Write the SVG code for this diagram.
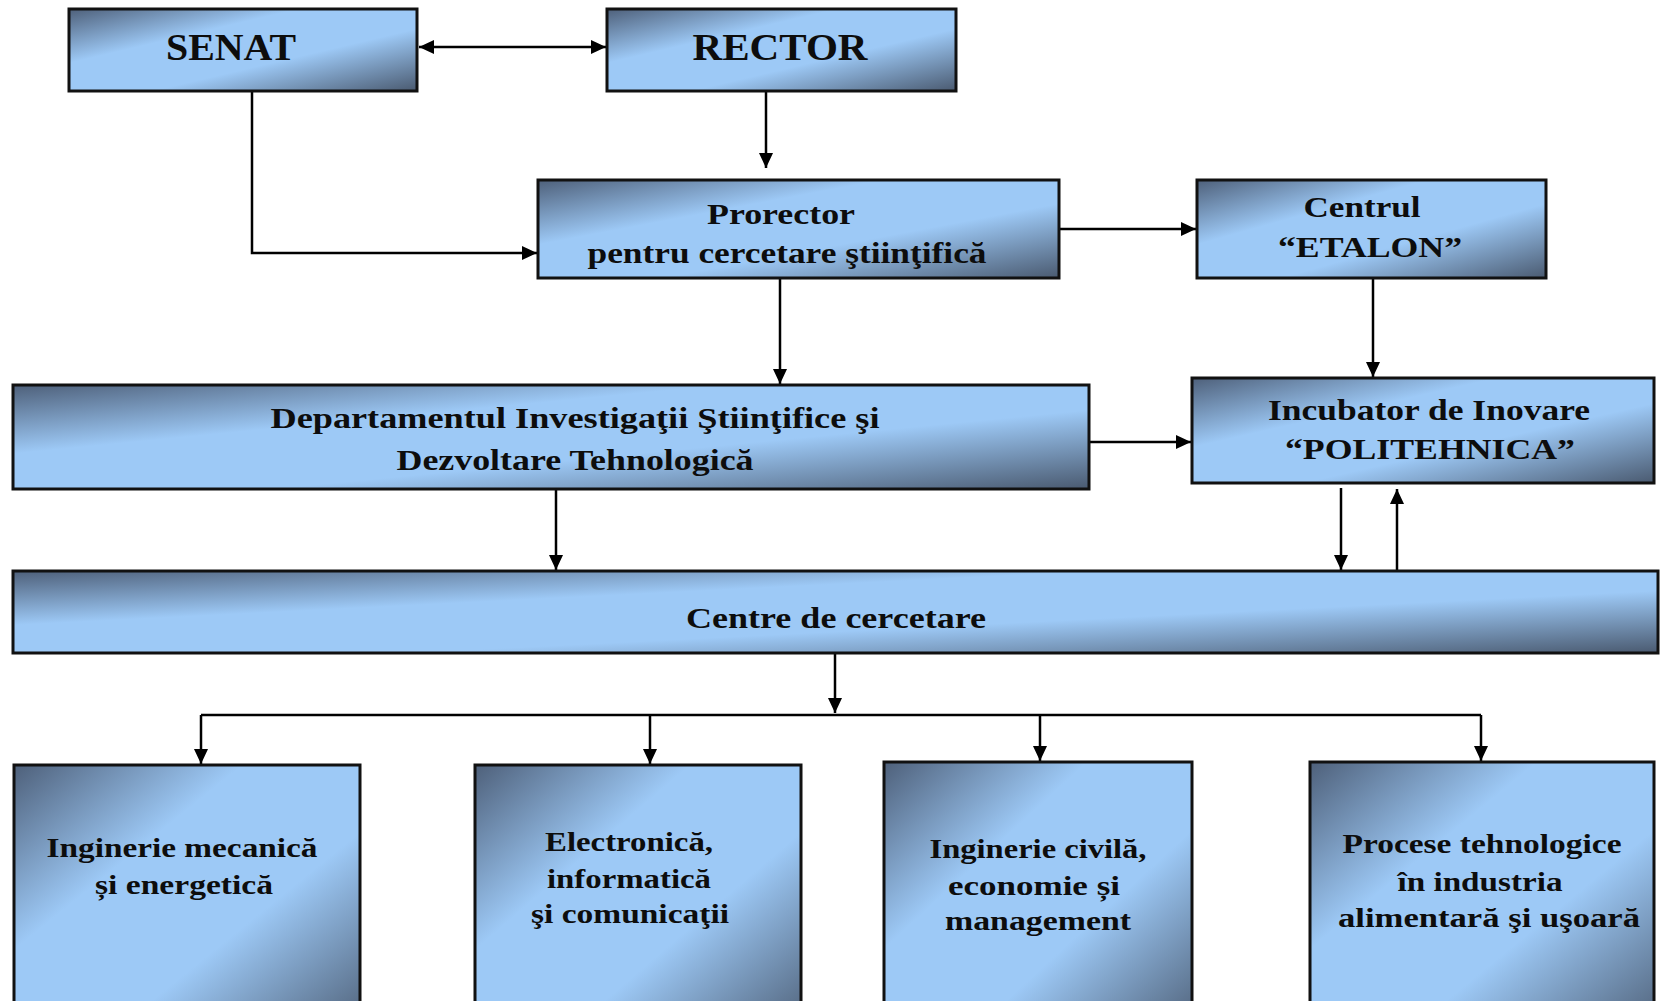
<svg xmlns="http://www.w3.org/2000/svg" width="1660" height="1001" viewBox="0 0 1660 1001">
<defs>
<linearGradient id="g" x1="0" y1="0" x2="1" y2="1">
<stop offset="0" stop-color="#4e607a"/>
<stop offset="0.33" stop-color="#9dc9f6"/>
<stop offset="0.62" stop-color="#9dc9f6"/>
<stop offset="1" stop-color="#4a5a70"/>
</linearGradient>
<marker id="ah" markerWidth="15" markerHeight="14" refX="15" refY="7" orient="auto-start-reverse" markerUnits="userSpaceOnUse">
<path d="M0,0 L15,7 L0,14 z" fill="#000"/>
</marker>
<style>
.box{fill:url(#g);stroke:#111;stroke-width:3}
.t{font-family:"Liberation Serif","Times New Roman",serif;font-weight:bold;fill:#0d0d0d;text-anchor:middle}
.big{font-size:38px}
.mid{font-size:30px}
.sm{font-size:27px}
.c{fill:none;stroke:#000;stroke-width:2.5}
.a{marker-end:url(#ah)}
</style>
</defs>
<g id="connectors">
<line class="c a" x1="419" y1="47" x2="606" y2="47" marker-start="url(#ah)"/>
<line class="c a" x1="766" y1="91" x2="766" y2="168"/>
<polyline class="c a" points="252,91 252,253 537,253"/>
<line class="c a" x1="1059" y1="229" x2="1196" y2="229"/>
<line class="c a" x1="780" y1="278" x2="780" y2="384"/>
<line class="c a" x1="1373" y1="278" x2="1373" y2="377"/>
<line class="c a" x1="1087" y1="442" x2="1191" y2="442"/>
<line class="c a" x1="556" y1="489" x2="556" y2="570"/>
<line class="c a" x1="1341" y1="488" x2="1341" y2="570"/>
<line class="c a" x1="1397" y1="571" x2="1397" y2="489"/>
<line class="c a" x1="835" y1="653" x2="835" y2="713"/>
<line class="c" x1="201" y1="715" x2="1481" y2="715"/>
<line class="c a" x1="201" y1="715" x2="201" y2="764"/>
<line class="c a" x1="650" y1="715" x2="650" y2="764"/>
<line class="c a" x1="1040" y1="715" x2="1040" y2="761"/>
<line class="c a" x1="1481" y1="715" x2="1481" y2="761"/>
</g>
<g id="senat">
<rect class="box" x="69" y="9" width="348" height="82"/>
<text class="t big" x="231" y="60" textLength="130" lengthAdjust="spacingAndGlyphs">SENAT</text>
</g>
<g id="rector">
<rect class="box" x="607" y="9" width="349" height="82"/>
<text class="t big" x="780" y="60" textLength="175" lengthAdjust="spacingAndGlyphs">RECTOR</text>
</g>
<g id="prorector">
<rect class="box" x="538" y="180" width="521" height="98"/>
<text class="t mid" x="781" y="224" textLength="148" lengthAdjust="spacingAndGlyphs">Prorector</text>
<text class="t mid" x="787" y="263" textLength="399" lengthAdjust="spacingAndGlyphs">pentru cercetare ştiinţifică</text>
</g>
<g id="centrul-etalon">
<rect class="box" x="1197" y="180" width="349" height="98"/>
<text class="t mid" x="1362" y="217" textLength="117" lengthAdjust="spacingAndGlyphs">Centrul</text>
<text class="t mid" x="1370" y="257" textLength="184" lengthAdjust="spacingAndGlyphs">“ETALON”</text>
</g>
<g id="departament">
<rect class="box" x="13" y="385" width="1076" height="104"/>
<text class="t mid" x="575" y="428" font-size="31" textLength="609" lengthAdjust="spacingAndGlyphs">Departamentul Investigaţii Ştiinţifice şi</text>
<text class="t mid" x="575" y="470" font-size="31" textLength="357" lengthAdjust="spacingAndGlyphs">Dezvoltare Tehnologică</text>
</g>
<g id="incubator">
<rect class="box" x="1192" y="378" width="462" height="105"/>
<text class="t mid" x="1429" y="420" textLength="322" lengthAdjust="spacingAndGlyphs">Incubator de Inovare</text>
<text class="t mid" x="1430" y="459" textLength="290" lengthAdjust="spacingAndGlyphs">“POLITEHNICA”</text>
</g>
<g id="centre">
<rect class="box" x="13" y="571" width="1645" height="82"/>
<text class="t mid" x="836" y="628" textLength="300" lengthAdjust="spacingAndGlyphs">Centre de cercetare</text>
</g>
<g id="mecanica">
<rect class="box" x="14" y="765" width="346" height="280"/>
<text class="t sm" x="182" y="857" textLength="271" lengthAdjust="spacingAndGlyphs">Inginerie mecanică</text>
<text class="t sm" x="184" y="894" textLength="178" lengthAdjust="spacingAndGlyphs">și energetică</text>
</g>
<g id="electronica">
<rect class="box" x="475" y="765" width="326" height="280"/>
<text class="t sm" x="629" y="851" textLength="168" lengthAdjust="spacingAndGlyphs">Electronică,</text>
<text class="t sm" x="629" y="888" textLength="164" lengthAdjust="spacingAndGlyphs">informatică</text>
<text class="t sm" x="630" y="923" textLength="198" lengthAdjust="spacingAndGlyphs">şi comunicaţii</text>
</g>
<g id="civila">
<rect class="box" x="884" y="762" width="308" height="283"/>
<text class="t sm" x="1038" y="858" textLength="217" lengthAdjust="spacingAndGlyphs">Inginerie civilă,</text>
<text class="t sm" x="1034" y="895" textLength="172" lengthAdjust="spacingAndGlyphs">economie și</text>
<text class="t sm" x="1038" y="930" textLength="186" lengthAdjust="spacingAndGlyphs">management</text>
</g>
<g id="procese">
<rect class="box" x="1310" y="762" width="344" height="283"/>
<text class="t sm" x="1482" y="853" textLength="279" lengthAdjust="spacingAndGlyphs">Procese tehnologice</text>
<text class="t sm" x="1480" y="891" textLength="165" lengthAdjust="spacingAndGlyphs">în industria</text>
<text class="t sm" x="1489" y="927" textLength="302" lengthAdjust="spacingAndGlyphs">alimentară şi uşoară</text>
</g>
</svg>
